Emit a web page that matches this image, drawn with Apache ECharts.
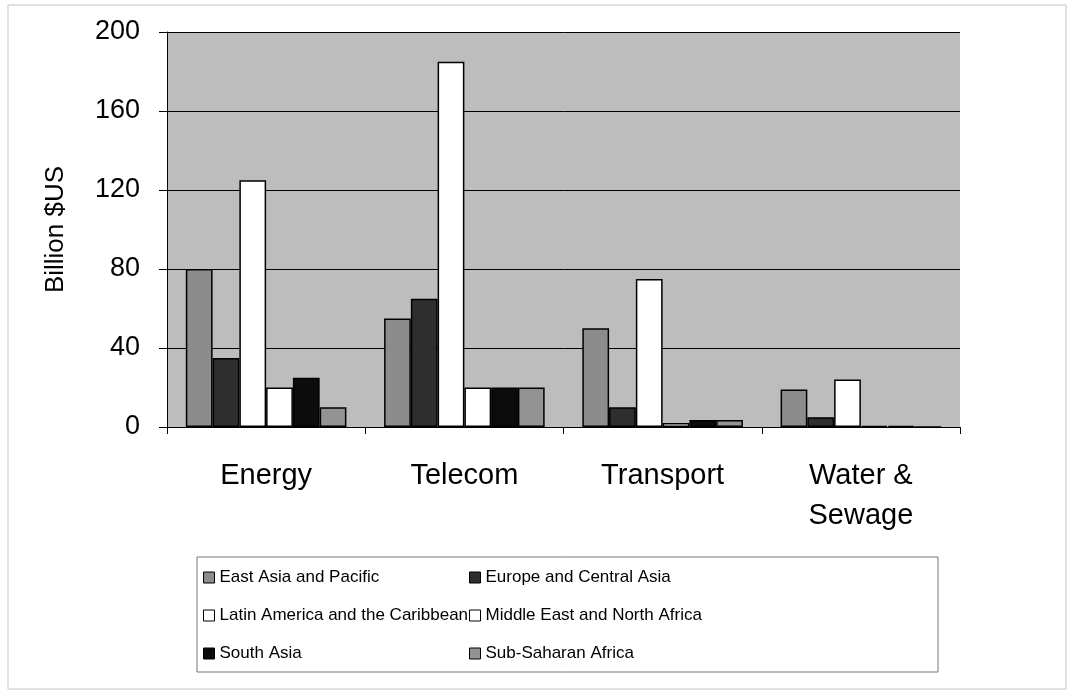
<!DOCTYPE html>
<html><head><meta charset="utf-8">
<script src="https://cdn.jsdelivr.net/npm/echarts@6/dist/echarts.min.js"></script>
<style>html,body{margin:0;padding:0;background:#fff}#c{width:1068px;height:692px}</style>
</head><body><div id="c"></div>
<script>
var categories = ['Energy', 'Telecom', 'Transport', 'Water &\nSewage'];
var seriesNames = ['East Asia and Pacific', 'Europe and Central Asia', 'Latin America and the Caribbean', 'Middle East and North Africa', 'South Asia', 'Sub-Saharan Africa'];
var eastAsia = [80, 55, 50, 19];
var europe = [35, 65, 10, 5];
var latinAmerica = [125, 185, 75, 24];
var middleEast = [20, 20, 2, 0.6];
var southAsia = [25, 20, 3.5, 0.6];
var subSaharan = [10, 20, 3.5, 0];
var yTicks = [0, 40, 80, 120, 160, 200];
var colors = ['#8c8c8c', '#2e2e2e', '#ffffff', '#ffffff', '#0c0c0c', '#939393'];
var allData = [eastAsia, europe, latinAmerica, middleEast, southAsia, subSaharan];

var font = 'Liberation Sans, Arial, sans-serif';
var chart = echarts.init(document.getElementById('c'));
var series = seriesNames.map(function (n, i) {
  return {
    name: n, type: 'bar', data: allData[i], barGap: '0%', barCategoryGap: '19%',
    itemStyle: { color: colors[i], borderColor: '#000', borderWidth: 1.5 }
  };
});
function legendItem(names, left) {
  return {
    orient: 'vertical', left: left, top: 569, itemGap: 21, itemWidth: 11, itemHeight: 11,
    icon: 'rect', selectedMode: false, padding: 0,
    data: names,
    textStyle: { fontFamily: font, fontSize: 17, color: '#000' },
    itemStyle: { borderColor: '#000', borderWidth: 1 }
  };
}
chart.setOption({
  animation: false,
  color: colors,
  grid: { left: 167, right: 108, top: 32, bottom: 265, show: true, backgroundColor: '#bdbdbd', borderWidth: 0 },
  graphic: [
    { type: 'rect', shape: { x: 8, y: 5, width: 1058, height: 684 }, style: { fill: 'none', stroke: '#c4c4c4', lineWidth: 1 }, z: -10 },
    { type: 'rect', shape: { x: 197, y: 557, width: 741, height: 115 }, style: { fill: '#fff', stroke: '#777', lineWidth: 1 }, z: -5 }
  ],
  legend: [
    legendItem(['East Asia and Pacific', 'Latin America and the Caribbean', 'South Asia'], 203),
    legendItem(['Europe and Central Asia', 'Middle East and North Africa', 'Sub-Saharan Africa'], 469)
  ],
  xAxis: {
    type: 'category', data: categories,
    axisLine: { lineStyle: { color: '#000', width: 1 } },
    axisTick: { show: true, length: 7, lineStyle: { color: '#000' } },
    axisLabel: { fontFamily: font, fontSize: 29, color: '#000', margin: 29, lineHeight: 40 }
  },
  yAxis: {
    type: 'value', min: 0, max: 200, interval: 40,
    name: 'Billion $US', nameLocation: 'middle', nameGap: 98, nameRotate: 90,
    nameTextStyle: { fontFamily: font, fontSize: 26, color: '#000' },
    axisLine: { show: true, lineStyle: { color: '#000', width: 1 } },
    axisTick: { show: true, length: 8, lineStyle: { color: '#000' } },
    splitLine: { show: true, lineStyle: { color: '#000', width: 1 } },
    axisLabel: { fontFamily: font, fontSize: 27, color: '#000', margin: 27,
      formatter: function (v) { return yTicks.indexOf(v) >= 0 ? String(v) : ''; } }
  },
  series: series
});
</script></body></html>
